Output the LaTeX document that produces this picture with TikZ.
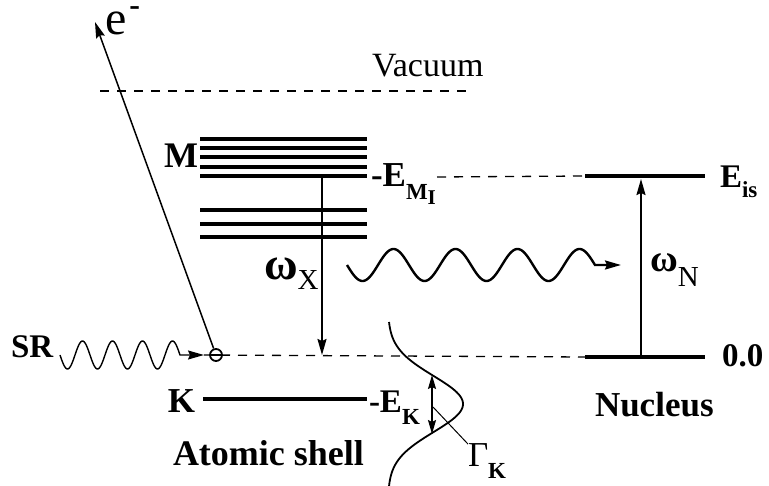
\documentclass[tikz,border=0pt]{standalone}
\usepackage{fontspec}
\setmainfont{Liberation Serif}
\usetikzlibrary{arrows.meta}
\newcommand{\fsz}[1]{\fontsize{#1}{#1}\selectfont}
\begin{document}
\begin{tikzpicture}[x=1pt,y=-1pt,
  lbl/.style={inner sep=0pt, outer sep=0pt},
  level/.style={line width=3.2pt},
  nlevel/.style={line width=3.8pt},
  tip/.style={-{Stealth[length=16pt,width=9pt,inset=2pt]}},
  thinarrow/.style={line width=1.8pt, tip},
  dashline/.style={line width=1.3pt, dash pattern=on 9pt off 8pt},
]
\useasboundingbox (0,0) rectangle (769,486);

% ---- coordinates
\coordinate (eTip) at (95,22);
\coordinate (vacL) at (100,91);
\coordinate (vacR) at (467,91);
\coordinate (mI) at (322,176);
\coordinate (kEnd) at (322,355);
\coordinate (zeroL) at (204,355);
\coordinate (isL) at (585,176);
\coordinate (isR) at (705,176);
\coordinate (gsL) at (585,357);
\coordinate (gsR) at (705,357);
\coordinate (nBot) at (641,357);
\coordinate (nTop) at (641,179);
\coordinate (emiDash) at (437,177);
\coordinate (srTip) at (204,355);
\coordinate (waveTip) at (621,265);
\coordinate (gTop) at (432,375);
\coordinate (gBot) at (432,434);
\coordinate (leadS) at (433,407);
\coordinate (kL) at (203,399);
\coordinate (kR) at (367,399);

% ---- dashed lines
\draw[dashline] (vacL) -- (vacR);
\draw[dashline] (zeroL) -- (gsL);
\draw[dashline] (emiDash) -- (isL);

% ---- atomic levels
\foreach \yy in {139,148,157,167,176} \draw[level] (200,\yy) -- (367,\yy);
\foreach \yy in {210,224,237} \draw[level] (200,\yy) -- (367,\yy);
\draw[level] (kL) -- (kR);

% ---- nucleus levels
\draw[nlevel] (isL) -- (isR);
\draw[nlevel] (gsL) -- (gsR);
\draw[thinarrow] (nBot) -- (nTop);

% ---- x-ray transition
\draw[thinarrow] (mI) -- (kEnd);

% ---- hole and photoelectron
\node[draw, circle, line width=1.8pt, minimum size=12pt, inner sep=0pt, fill=white] (hole) at (216,355) {};
\draw[line width=1.6pt] ([xshift=1pt]hole.west) -- ([xshift=-1pt]hole.east);
\draw[line width=1.5pt, tip] (hole) -- (eTip);

% ---- SR wave
\draw[line width=1.4pt, tip] plot[domain=60:180, samples=121, smooth] (\x,{355+14*sin(12*(\x-60))}) -- (srTip);

% ---- photon wave
\draw[line width=2.4pt, tip] plot[domain=347:595, samples=200, smooth] (\x,{265+16*sin(5.80645*(\x-347))}) -- (waveTip);

% ---- line profile
\draw[line width=1.8pt] plot[domain=322:486, samples=120, smooth] ({388+75*exp(-((\x-404)^2)/1578)}, \x);
\draw[line width=1.6pt, {Stealth[length=14pt,width=8pt,inset=2pt]}-{Stealth[length=14pt,width=8pt,inset=2pt]}] (gTop) -- (gBot);

% ---- labels
\node[lbl, anchor=base west, text height=26pt] (eLbl) at (105,35) {\fsz{48}e\hspace{3pt}\raisebox{19pt}{\fsz{32}\bfseries -}};
\node[lbl, anchor=base west] (vac) at (372,77) {\fsz{34}Vacuum};
\node[lbl, anchor=base east] (mLbl) at (198,168) {\bfseries\fsz{36}M};
\node[lbl, anchor=base west] (emi) at (371,187) {\bfseries\fsz{35}-E\raisebox{-13pt}{\fsz{23}M\raisebox{-5pt}{\fsz{21}I}}};
\node[lbl, anchor=base west] (wx) at (264,280) {\fsz{46}\textbf{ω}\raisebox{-10pt}{\fsz{29}X}};
\node[lbl, anchor=base west] (wn) at (650,272) {\fsz{38}\textbf{ω}\raisebox{-15pt}{\fsz{29}N}};
\node[lbl, anchor=base west] (eis) at (720,188) {\bfseries\fsz{33}E\raisebox{-10pt}{\fsz{23}is}};
\node[lbl, anchor=base west] (zero) at (722,367) {\bfseries\fsz{33}0.0};
\node[lbl, anchor=base west] (nuc) at (595,417) {\bfseries\fsz{35}Nucleus};
\node[lbl, anchor=base west] (sr) at (11,358) {\bfseries\fsz{33}SR};
\node[lbl, anchor=base east] (kLbl) at (195,413) {\bfseries\fsz{35}K};
\node[lbl, anchor=base west] (ek) at (369,413) {\bfseries\fsz{33}-E\raisebox{-12pt}{\fsz{23}K}};
\node[lbl, anchor=base west] (shell) at (173,465) {\bfseries\fsz{36}Atomic shell};
\node[lbl, anchor=base west] (gam) at (468,467) {\fsz{35}Γ\raisebox{-12pt}{\fsz{23}\bfseries K}};
\draw[line width=1pt] (leadS) -- (gam.north west);
\end{tikzpicture}
\end{document}
